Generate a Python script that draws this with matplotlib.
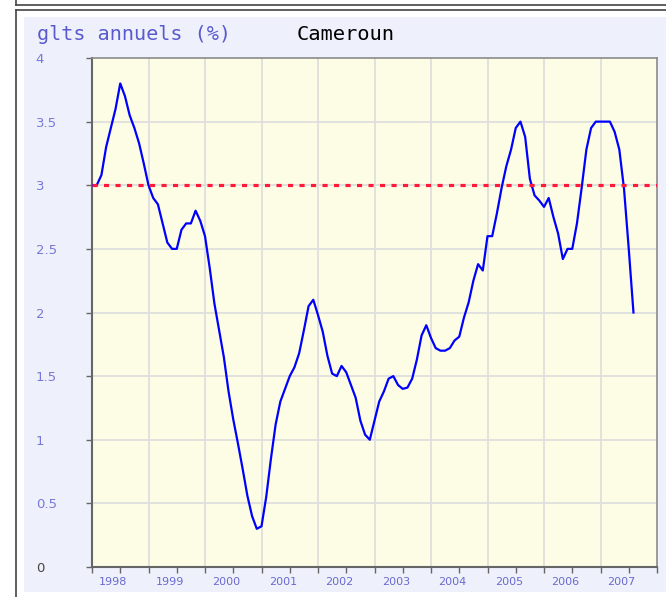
import numpy as np
import matplotlib
matplotlib.use("Agg")
import matplotlib.pyplot as plt
from matplotlib.lines import Line2D
from matplotlib.patches import Rectangle
from matplotlib.transforms import ScaledTranslation

# --- monthly annual rate, Jan 1998 .. Aug 2007 ---
rate = [
    3.0, 3.0, 3.08, 3.3, 3.45, 3.6, 3.8, 3.7, 3.55, 3.45, 3.33, 3.17,   # 1998
    3.0, 2.9, 2.85, 2.7, 2.55, 2.5, 2.5, 2.65, 2.7, 2.7, 2.8, 2.72,     # 1999
    2.6, 2.35, 2.07, 1.86, 1.65, 1.38, 1.16, 0.97, 0.77, 0.56, 0.4, 0.3,  # 2000
    0.32, 0.55, 0.85, 1.12, 1.3, 1.4, 1.5, 1.57, 1.68, 1.86, 2.05, 2.1,   # 2001
    1.98, 1.85, 1.66, 1.52, 1.5, 1.58, 1.53, 1.43, 1.33, 1.15, 1.04, 1.0,  # 2002
    1.15, 1.3, 1.38, 1.48, 1.5, 1.43, 1.4, 1.41, 1.48, 1.63, 1.82, 1.9,   # 2003
    1.8, 1.72, 1.7, 1.7, 1.72, 1.78, 1.81, 1.96, 2.08, 2.25, 2.38, 2.33,  # 2004
    2.6, 2.6, 2.78, 2.98, 3.15, 3.28, 3.45, 3.5, 3.38, 3.05, 2.92, 2.88,  # 2005
    2.83, 2.9, 2.75, 2.62, 2.42, 2.5, 2.5, 2.7, 2.98, 3.28, 3.45, 3.5,    # 2006
    3.5, 3.5, 3.5, 3.42, 3.28, 2.97, 2.5, 2.0,                            # 2007
]
years = [1998, 1999, 2000, 2001, 2002, 2003, 2004, 2005, 2006, 2007]
yticks = [0, 0.5, 1, 1.5, 2, 2.5, 3, 3.5, 4]
ytick_labels = ["0", "0.5", "1", "1.5", "2", "2.5", "3", "3.5", "4"]
target = 3.0

W, H = 666, 597
fig = plt.figure(figsize=(W / 100, H / 100), dpi=100)
fig.patch.set_facecolor("white")


def fx(x):
    return x / W


def fy(y):
    return 1 - y / H


# page frames and light blue panel
fig.add_artist(Rectangle((fx(24), fy(592)), fx(666) - fx(24), fy(17) - fy(592),
                         transform=fig.transFigure, facecolor="#eef1fb",
                         edgecolor="none", zorder=0))
for xs, ys in [([16, 16], [0, 5]), ([16, 666], [5, 5]),
               ([16, 666], [10, 10]), ([16, 16], [10, 597])]:
    fig.add_artist(Line2D([fx(v) for v in xs], [fy(v) for v in ys],
                          transform=fig.transFigure, color="#444444", lw=1.2))

ax = fig.add_axes([fx(92), fy(567), fx(657) - fx(92), fy(58) - fy(567)])
ax.set_facecolor("#fdfde6")

t = 1998 + np.arange(len(rate)) / 12.0
ax.plot(t, rate, color="#0000ff", lw=1.6, zorder=3)
ax.axhline(target, color="#ff1a3a", lw=2.3, dashes=(1.6, 2.0), zorder=4)

ax.set_xlim(1998, 2008)
ax.set_ylim(0, 4)

# grid: year boundaries and every 0.5
for yr in years[1:]:
    ax.axvline(yr, color="#dedede", lw=1.3, zorder=1)
for v in yticks[1:-1]:
    ax.axhline(v, color="#dedede", lw=1.3, zorder=1)

ax.set_xticks(years + [2008])
ax.set_xticklabels([])
ax.set_xticks([y + 0.5 for y in years], minor=True)
ax.set_xticklabels([str(y) for y in years], minor=True)
ax.tick_params(axis="x", which="both", direction="out", length=4, width=1,
               color="#666666", pad=3.5, labelsize=8, labelcolor="#6a6ad0")
# year labels sit a little left of their mid-year tick
shift = ScaledTranslation(-7 / 100, 0, fig.dpi_scale_trans)
for lab in ax.get_xticklabels(minor=True):
    lab.set_transform(lab.get_transform() + shift)

ax.set_yticks(yticks)
ax.set_yticklabels(ytick_labels)
ax.tick_params(axis="y", direction="out", length=4, width=1, color="#666666",
               pad=36.5, labelsize=9.5, labelcolor="#7878d8")
for lab in ax.get_yticklabels():
    lab.set_horizontalalignment("left")
ax.get_yticklabels()[0].set_color("#444444")

for side in ["left", "bottom"]:
    ax.spines[side].set_color("#666666")
    ax.spines[side].set_linewidth(1.5)
for side in ["top", "right"]:
    ax.spines[side].set_color("#8a8a8a")
    ax.spines[side].set_linewidth(1.2)

fig.text(fx(37), fy(35), "glts annuels (%)", family="DejaVu Sans Mono",
         fontsize=14.5, color="#5a5acd", ha="left", va="center")
fig.text(fx(297), fy(35), "Cameroun", family="DejaVu Sans Mono",
         fontsize=14.7, color="black", ha="left", va="center")

fig.savefig("out.png", dpi=100)
